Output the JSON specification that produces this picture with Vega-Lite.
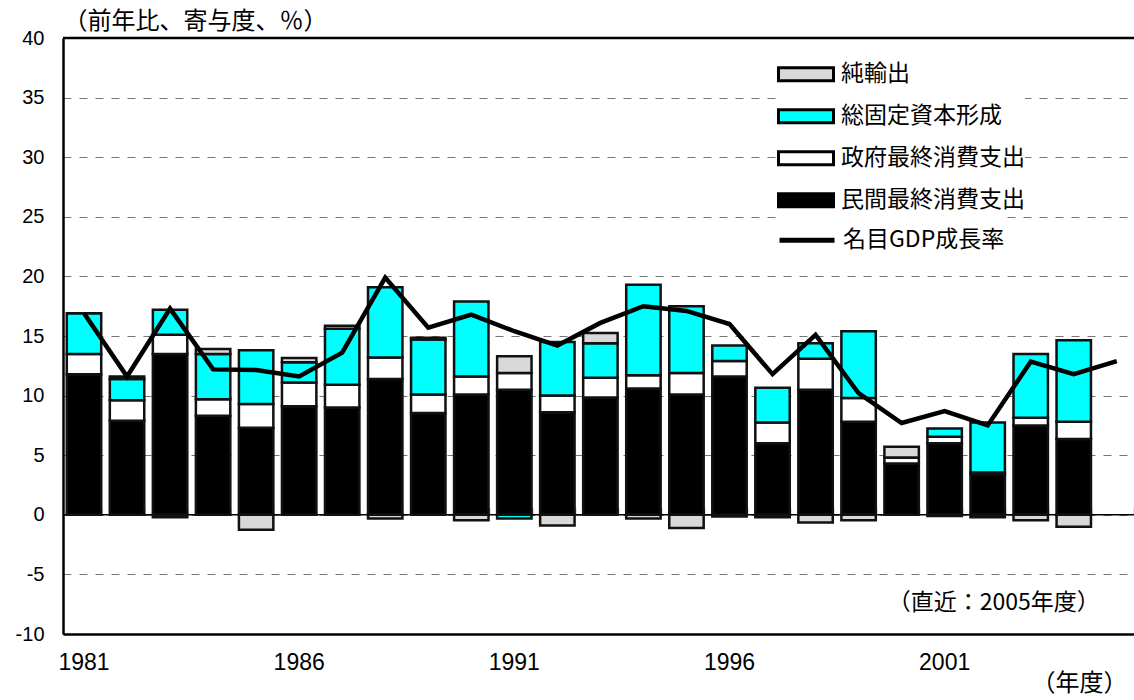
{
  "$schema": "https://vega.github.io/schema/vega-lite/v6.json",
  "width": 1071,
  "height": 596,
  "autosize": {"type": "none"},
  "padding": {"left": 63, "top": 38, "right": 0, "bottom": 66},
  "background": "white",
  "config": {
    "view": {"stroke": null},
    "font": "Liberation Sans",
    "axis": {"labelColor": "#000", "titleColor": "#000"}
  },
  "datasets": {
    "bars": [
      {"year": 1981, "comp": "民間最終消費支出", "rank": 1, "value": 11.8},
      {"year": 1981, "comp": "政府最終消費支出", "rank": 2, "value": 1.7},
      {"year": 1981, "comp": "総固定資本形成", "rank": 3, "value": 3.4},
      {"year": 1981, "comp": "純輸出", "rank": 4, "value": 0},
      {"year": 1982, "comp": "民間最終消費支出", "rank": 1, "value": 7.9},
      {"year": 1982, "comp": "政府最終消費支出", "rank": 2, "value": 1.7},
      {"year": 1982, "comp": "総固定資本形成", "rank": 3, "value": 1.8},
      {"year": 1982, "comp": "純輸出", "rank": 4, "value": 0.2},
      {"year": 1983, "comp": "民間最終消費支出", "rank": 1, "value": 13.5},
      {"year": 1983, "comp": "政府最終消費支出", "rank": 2, "value": 1.6},
      {"year": 1983, "comp": "総固定資本形成", "rank": 3, "value": 2.1},
      {"year": 1983, "comp": "純輸出", "rank": 4, "value": -0.2},
      {"year": 1984, "comp": "民間最終消費支出", "rank": 1, "value": 8.3},
      {"year": 1984, "comp": "政府最終消費支出", "rank": 2, "value": 1.4},
      {"year": 1984, "comp": "総固定資本形成", "rank": 3, "value": 3.8},
      {"year": 1984, "comp": "純輸出", "rank": 4, "value": 0.4},
      {"year": 1985, "comp": "民間最終消費支出", "rank": 1, "value": 7.3},
      {"year": 1985, "comp": "政府最終消費支出", "rank": 2, "value": 2.0},
      {"year": 1985, "comp": "総固定資本形成", "rank": 3, "value": 4.5},
      {"year": 1985, "comp": "純輸出", "rank": 4, "value": -1.25},
      {"year": 1986, "comp": "民間最終消費支出", "rank": 1, "value": 9.1},
      {"year": 1986, "comp": "政府最終消費支出", "rank": 2, "value": 2.0},
      {"year": 1986, "comp": "総固定資本形成", "rank": 3, "value": 1.7},
      {"year": 1986, "comp": "純輸出", "rank": 4, "value": 0.35},
      {"year": 1987, "comp": "民間最終消費支出", "rank": 1, "value": 9.0},
      {"year": 1987, "comp": "政府最終消費支出", "rank": 2, "value": 1.9},
      {"year": 1987, "comp": "総固定資本形成", "rank": 3, "value": 4.7},
      {"year": 1987, "comp": "純輸出", "rank": 4, "value": 0.25},
      {"year": 1988, "comp": "民間最終消費支出", "rank": 1, "value": 11.4},
      {"year": 1988, "comp": "政府最終消費支出", "rank": 2, "value": 1.8},
      {"year": 1988, "comp": "総固定資本形成", "rank": 3, "value": 5.9},
      {"year": 1988, "comp": "純輸出", "rank": 4, "value": -0.3},
      {"year": 1989, "comp": "民間最終消費支出", "rank": 1, "value": 8.55},
      {"year": 1989, "comp": "政府最終消費支出", "rank": 2, "value": 1.55},
      {"year": 1989, "comp": "総固定資本形成", "rank": 3, "value": 4.6},
      {"year": 1989, "comp": "純輸出", "rank": 4, "value": 0.15},
      {"year": 1990, "comp": "民間最終消費支出", "rank": 1, "value": 10.1},
      {"year": 1990, "comp": "政府最終消費支出", "rank": 2, "value": 1.5},
      {"year": 1990, "comp": "総固定資本形成", "rank": 3, "value": 6.3},
      {"year": 1990, "comp": "純輸出", "rank": 4, "value": -0.45},
      {"year": 1991, "comp": "民間最終消費支出", "rank": 1, "value": 10.5},
      {"year": 1991, "comp": "政府最終消費支出", "rank": 2, "value": 1.4},
      {"year": 1991, "comp": "総固定資本形成", "rank": 3, "value": -0.3},
      {"year": 1991, "comp": "純輸出", "rank": 4, "value": 1.4},
      {"year": 1992, "comp": "民間最終消費支出", "rank": 1, "value": 8.6},
      {"year": 1992, "comp": "政府最終消費支出", "rank": 2, "value": 1.4},
      {"year": 1992, "comp": "総固定資本形成", "rank": 3, "value": 4.5},
      {"year": 1992, "comp": "純輸出", "rank": 4, "value": -0.9},
      {"year": 1993, "comp": "民間最終消費支出", "rank": 1, "value": 9.85},
      {"year": 1993, "comp": "政府最終消費支出", "rank": 2, "value": 1.65},
      {"year": 1993, "comp": "総固定資本形成", "rank": 3, "value": 2.9},
      {"year": 1993, "comp": "純輸出", "rank": 4, "value": 0.85},
      {"year": 1994, "comp": "民間最終消費支出", "rank": 1, "value": 10.6},
      {"year": 1994, "comp": "政府最終消費支出", "rank": 2, "value": 1.1},
      {"year": 1994, "comp": "総固定資本形成", "rank": 3, "value": 7.6},
      {"year": 1994, "comp": "純輸出", "rank": 4, "value": -0.3},
      {"year": 1995, "comp": "民間最終消費支出", "rank": 1, "value": 10.1},
      {"year": 1995, "comp": "政府最終消費支出", "rank": 2, "value": 1.8},
      {"year": 1995, "comp": "総固定資本形成", "rank": 3, "value": 5.6},
      {"year": 1995, "comp": "純輸出", "rank": 4, "value": -1.1},
      {"year": 1996, "comp": "民間最終消費支出", "rank": 1, "value": 11.6},
      {"year": 1996, "comp": "政府最終消費支出", "rank": 2, "value": 1.3},
      {"year": 1996, "comp": "総固定資本形成", "rank": 3, "value": 1.3},
      {"year": 1996, "comp": "純輸出", "rank": 4, "value": -0.15},
      {"year": 1997, "comp": "民間最終消費支出", "rank": 1, "value": 6.0},
      {"year": 1997, "comp": "政府最終消費支出", "rank": 2, "value": 1.75},
      {"year": 1997, "comp": "総固定資本形成", "rank": 3, "value": 2.9},
      {"year": 1997, "comp": "純輸出", "rank": 4, "value": -0.2},
      {"year": 1998, "comp": "民間最終消費支出", "rank": 1, "value": 10.5},
      {"year": 1998, "comp": "政府最終消費支出", "rank": 2, "value": 2.6},
      {"year": 1998, "comp": "総固定資本形成", "rank": 3, "value": 1.3},
      {"year": 1998, "comp": "純輸出", "rank": 4, "value": -0.65},
      {"year": 1999, "comp": "民間最終消費支出", "rank": 1, "value": 7.8},
      {"year": 1999, "comp": "政府最終消費支出", "rank": 2, "value": 2.0},
      {"year": 1999, "comp": "総固定資本形成", "rank": 3, "value": 5.6},
      {"year": 1999, "comp": "純輸出", "rank": 4, "value": -0.45},
      {"year": 2000, "comp": "民間最終消費支出", "rank": 1, "value": 4.3},
      {"year": 2000, "comp": "政府最終消費支出", "rank": 2, "value": 0.5},
      {"year": 2000, "comp": "総固定資本形成", "rank": 3, "value": 0},
      {"year": 2000, "comp": "純輸出", "rank": 4, "value": 0.9},
      {"year": 2001, "comp": "民間最終消費支出", "rank": 1, "value": 6.0},
      {"year": 2001, "comp": "政府最終消費支出", "rank": 2, "value": 0.55},
      {"year": 2001, "comp": "総固定資本形成", "rank": 3, "value": 0.7},
      {"year": 2001, "comp": "純輸出", "rank": 4, "value": -0.1},
      {"year": 2002, "comp": "民間最終消費支出", "rank": 1, "value": 3.4},
      {"year": 2002, "comp": "政府最終消費支出", "rank": 2, "value": 0.15},
      {"year": 2002, "comp": "総固定資本形成", "rank": 3, "value": 4.2},
      {"year": 2002, "comp": "純輸出", "rank": 4, "value": -0.2},
      {"year": 2003, "comp": "民間最終消費支出", "rank": 1, "value": 7.5},
      {"year": 2003, "comp": "政府最終消費支出", "rank": 2, "value": 0.65},
      {"year": 2003, "comp": "総固定資本形成", "rank": 3, "value": 5.35},
      {"year": 2003, "comp": "純輸出", "rank": 4, "value": -0.45},
      {"year": 2004, "comp": "民間最終消費支出", "rank": 1, "value": 6.35},
      {"year": 2004, "comp": "政府最終消費支出", "rank": 2, "value": 1.45},
      {"year": 2004, "comp": "総固定資本形成", "rank": 3, "value": 6.85},
      {"year": 2004, "comp": "純輸出", "rank": 4, "value": -1.0}
    ],
    "gdp": [
      {"year": 1981, "growth": 16.9},
      {"year": 1982, "growth": 11.6},
      {"year": 1983, "growth": 17.3},
      {"year": 1984, "growth": 12.2},
      {"year": 1985, "growth": 12.15},
      {"year": 1986, "growth": 11.6},
      {"year": 1987, "growth": 13.6},
      {"year": 1988, "growth": 19.9},
      {"year": 1989, "growth": 15.7},
      {"year": 1990, "growth": 16.8},
      {"year": 1991, "growth": 15.4},
      {"year": 1992, "growth": 14.2},
      {"year": 1993, "growth": 16.1},
      {"year": 1994, "growth": 17.5},
      {"year": 1995, "growth": 17.1},
      {"year": 1996, "growth": 16.0},
      {"year": 1997, "growth": 11.8},
      {"year": 1998, "growth": 15.1},
      {"year": 1999, "growth": 10.2},
      {"year": 2000, "growth": 7.7},
      {"year": 2001, "growth": 8.7},
      {"year": 2002, "growth": 7.5},
      {"year": 2003, "growth": 12.85},
      {"year": 2004, "growth": 11.8},
      {"year": 2005, "growth": 12.9}
    ]
  },
  "resolve": {"axis": {"x": "independent"}},
  "layer": [
    {
      "data": {"values": [{}]},
      "mark": {"type": "rule", "color": "#000", "strokeWidth": 1.5},
      "encoding": {"y": {"datum": 0, "type": "quantitative"}}
    },
    {
      "data": {"values": [{}]},
      "mark": {"type": "rule", "color": "#000", "strokeWidth": 2.5},
      "encoding": {"y": {"datum": 40, "type": "quantitative"}}
    },
    {
      "data": {"name": "bars"},
      "mark": {"type": "bar", "stroke": "#111", "strokeWidth": 2.5},
      "encoding": {
        "x": {
          "field": "year",
          "type": "ordinal",
          "scale": {
            "domain": [1981, 1982, 1983, 1984, 1985, 1986, 1987, 1988, 1989, 1990, 1991, 1992, 1993, 1994, 1995, 1996, 1997, 1998, 1999, 2000, 2001, 2002, 2003, 2004, 2005],
            "paddingInner": 0.2,
            "paddingOuter": 0.044,
            "align": 1
          },
          "axis": {
            "orient": "bottom",
            "values": [1981, 1986, 1991, 1996, 2001],
            "ticks": false,
            "domain": true,
            "domainColor": "#000",
            "domainWidth": 2.5,
            "labelAngle": 0,
            "labelFont": "Liberation Sans",
            "labelFontSize": 23,
            "labelPadding": 17,
            "grid": false,
            "title": "（年度）",
            "titleFont": "Noto Sans CJK JP",
            "titleFontSize": 24,
            "titleFontWeight": "normal",
            "titleAlign": "right",
            "titleBaseline": "middle",
            "titleX": 1064,
            "titleY": 49
          }
        },
        "y": {
          "field": "value",
          "type": "quantitative",
          "stack": "zero",
          "scale": {"domain": [-10, 40], "nice": false, "zero": false},
          "axis": {
            "values": [-10, -5, 0, 5, 10, 15, 20, 25, 30, 35, 40],
            "labelExpr": "toString(datum.value)",
            "ticks": false,
            "domain": true,
            "domainColor": "#000",
            "domainWidth": 2.5,
            "grid": true,
            "gridColor": "#777",
            "gridWidth": 1.2,
            "gridDash": [8, 8],
            "labelFont": "Liberation Sans",
            "labelFontSize": 20,
            "labelPadding": 19,
            "title": "（前年比、寄与度、％）",
            "titleFont": "Noto Sans CJK JP",
            "titleFontSize": 24,
            "titleFontWeight": "normal",
            "titleAngle": 0,
            "titleAlign": "left",
            "titleBaseline": "middle",
            "titleX": 0,
            "titleY": -17
          }
        },
        "fill": {
          "field": "comp",
          "type": "nominal",
          "scale": {
            "domain": ["純輸出", "総固定資本形成", "政府最終消費支出", "民間最終消費支出"],
            "range": ["#d9d9d9", "#00ffff", "#ffffff", "#000000"]
          },
          "legend": {
            "orient": "none",
            "legendX": 714,
            "legendY": 7.2,
            "title": null,
            "direction": "vertical",
            "symbolType": "M-1,-0.236H1V0.236H-1Z",
            "symbolSize": 3025,
            "symbolStrokeColor": "#000",
            "symbolStrokeWidth": 3,
            "symbolOpacity": 1,
            "labelFont": "Noto Sans CJK JP",
            "labelFontSize": 23,
            "labelLimit": 400,
            "labelColor": "#000",
            "labelOffset": 6,
            "rowPadding": -0.7,
            "padding": 0,
            "fillColor": "white"
          }
        },
        "order": {"field": "rank", "type": "quantitative"}
      }
    },
    {
      "data": {"name": "gdp"},
      "mark": {"type": "line", "strokeWidth": 4.5, "strokeJoin": "miter"},
      "encoding": {
        "x": {
          "field": "year",
          "type": "ordinal",
          "axis": {
            "orient": "top",
            "offset": -476.5,
            "labels": false,
            "domain": false,
            "grid": false,
            "ticks": true,
            "tickBand": "extent",
            "tickSize": 7,
            "tickColor": "#888",
            "tickWidth": 1.5,
            "title": null
          }
        },
        "y": {"field": "growth", "type": "quantitative", "title": "（前年比、寄与度、％）"},
        "stroke": {
          "datum": "名目GDP成長率",
          "type": "nominal",
          "scale": {"range": ["#000000"]},
          "legend": {
            "orient": "none",
            "legendX": 714,
            "legendY": 172.2,
            "title": null,
            "symbolType": "stroke",
            "symbolSize": 3025,
            "symbolStrokeWidth": 5,
            "labelFont": "Noto Sans CJK JP",
            "labelFontSize": 23,
            "labelLimit": 400,
            "labelColor": "#000",
            "labelOffset": 6,
            "padding": 0,
            "fillColor": "white"
          }
        }
      }
    },
    {
      "data": {"values": [{}]},
      "mark": {"type": "text", "align": "center", "baseline": "middle", "dx": 6, "font": "Noto Sans CJK JP", "fontSize": 23, "color": "#000"},
      "encoding": {
        "x": {"datum": 2002, "type": "ordinal", "axis": null},
        "y": {"datum": -7.42, "type": "quantitative"},
        "text": {"value": "（直近：2005年度）"}
      }
    }
  ]
}
